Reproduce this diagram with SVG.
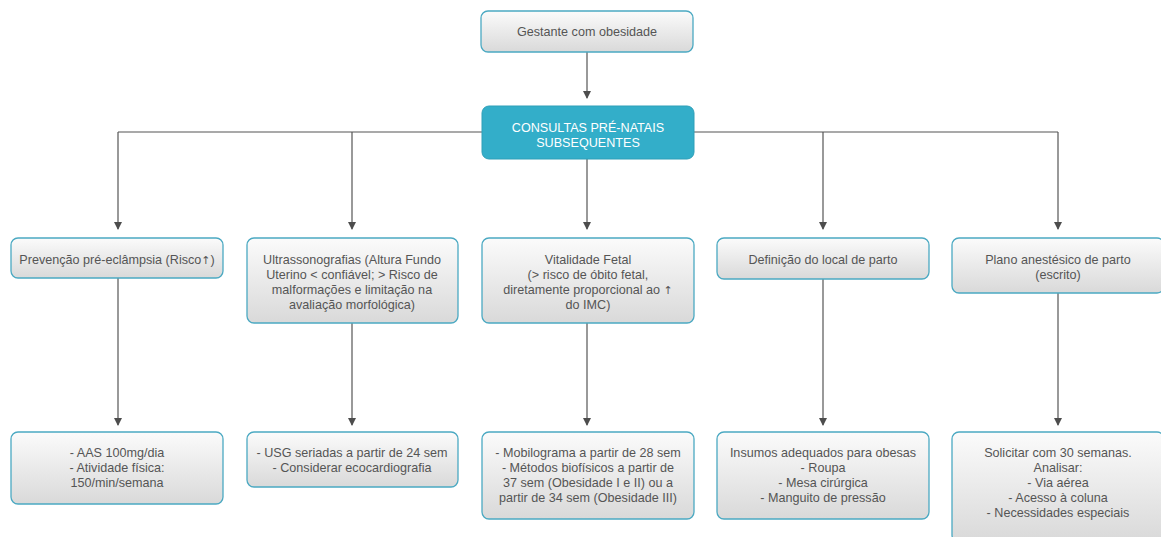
<svg xmlns="http://www.w3.org/2000/svg" width="1161" height="537" viewBox="0 0 1161 537">
<defs>
<linearGradient id="g" x1="0" y1="0" x2="0" y2="1">
<stop offset="0" stop-color="#fbfbfb"/>
<stop offset="1" stop-color="#d9d9d9"/>
</linearGradient>
<marker id="ar" markerWidth="8" markerHeight="10" refX="7" refY="5" orient="auto" markerUnits="userSpaceOnUse">
<path d="M0,1 L8,5 L0,9 Z" fill="#4d4d4d"/>
</marker>
<style>
.box{fill:url(#g);stroke:#4ba9c2;stroke-width:1.3}
.main{fill:#33aec9;stroke:#2e9fb8;stroke-width:1}
text{font-family:"Liberation Sans",Arial,sans-serif;font-size:12.6px;fill:#555;text-anchor:middle}
.ar{font-family:"DejaVu Sans",sans-serif;font-size:11px}
.w{fill:#fff}
.c{fill:none;stroke:#555;stroke-width:1.2}
.a{marker-end:url(#ar)}
</style>
</defs>
<rect width="1161" height="537" fill="#fff"/>
<g id="connectors">
<path class="c a" d="M587,52 V98"/>
<path class="c" d="M118,132 H1058"/>
<path class="c a" d="M118,132 V229"/>
<path class="c a" d="M352,132 V229"/>
<path class="c a" d="M587,159 V229"/>
<path class="c a" d="M823,132 V229"/>
<path class="c a" d="M1058,132 V229"/>
<path class="c a" d="M118,278 V425"/>
<path class="c a" d="M352,323 V425"/>
<path class="c a" d="M587,323 V425"/>
<path class="c a" d="M823,279 V425"/>
<path class="c a" d="M1058,293 V425"/>
</g>
<g id="n0"><rect class="box" x="481" y="11" width="212" height="41" rx="7"/><text x="587" y="36">Gestante com obesidade</text></g>
<g id="n1"><rect class="main" x="482" y="106" width="212" height="53" rx="7"/><text class="w" x="588" y="132">CONSULTAS PRÉ-NATAIS</text><text class="w" x="588" y="147">SUBSEQUENTES</text></g>
<g id="n2"><rect class="box" x="11" y="238" width="212" height="40" rx="7"/><text x="117" y="264">Prevenção pré-eclâmpsia (Risco<tspan class="ar">↑</tspan>)</text></g>
<g id="n3"><rect class="box" x="247" y="238" width="211" height="85" rx="7"/><text x="352" y="264">Ultrassonografias (Altura Fundo</text><text x="352" y="279">Uterino &lt; confiável; &gt; Risco de</text><text x="352" y="294">malformações e limitação na</text><text x="352" y="309">avaliação morfológica)</text></g>
<g id="n4"><rect class="box" x="482" y="238" width="212" height="85" rx="7"/><text x="588" y="264">Vitalidade Fetal</text><text x="588" y="279">(&gt; risco de óbito fetal,</text><text x="588" y="294">diretamente proporcional ao <tspan class="ar">↑</tspan></text><text x="588" y="309">do IMC)</text></g>
<g id="n5"><rect class="box" x="717" y="238" width="212" height="41" rx="7"/><text x="823" y="264">Definição do local de parto</text></g>
<g id="n6"><rect class="box" x="952" y="238" width="212" height="55" rx="7"/><text x="1058" y="264">Plano anestésico de parto</text><text x="1058" y="279">(escrito)</text></g>
<g id="n7"><rect class="box" x="11" y="432" width="212" height="72" rx="7"/><text x="117" y="457">- AAS 100mg/dia</text><text x="117" y="472">- Atividade física:</text><text x="117" y="487">150/min/semana</text></g>
<g id="n8"><rect class="box" x="247" y="432" width="211" height="55" rx="7"/><text x="352" y="457">- USG seriadas a partir de 24 sem</text><text x="352" y="472">- Considerar ecocardiografia</text></g>
<g id="n9"><rect class="box" x="482" y="432" width="212" height="87" rx="7"/><text x="588" y="457">- Mobilograma a partir de 28 sem</text><text x="588" y="472">- Métodos biofísicos a partir de</text><text x="588" y="487">37 sem (Obesidade I e II) ou a</text><text x="588" y="502">partir de 34 sem (Obesidade III)</text></g>
<g id="n10"><rect class="box" x="717" y="432" width="212" height="87" rx="7"/><text x="823" y="457">Insumos adequados para obesas</text><text x="823" y="472">- Roupa</text><text x="823" y="487">- Mesa cirúrgica</text><text x="823" y="502">- Manguito de pressão</text></g>
<g id="n11"><rect class="box" x="952" y="432" width="212" height="110" rx="7"/><text x="1058" y="457">Solicitar com 30 semanas.</text><text x="1058" y="472">Analisar:</text><text x="1058" y="487">- Via aérea</text><text x="1058" y="502">- Acesso à coluna</text><text x="1058" y="517">- Necessidades especiais</text></g>
</svg>
